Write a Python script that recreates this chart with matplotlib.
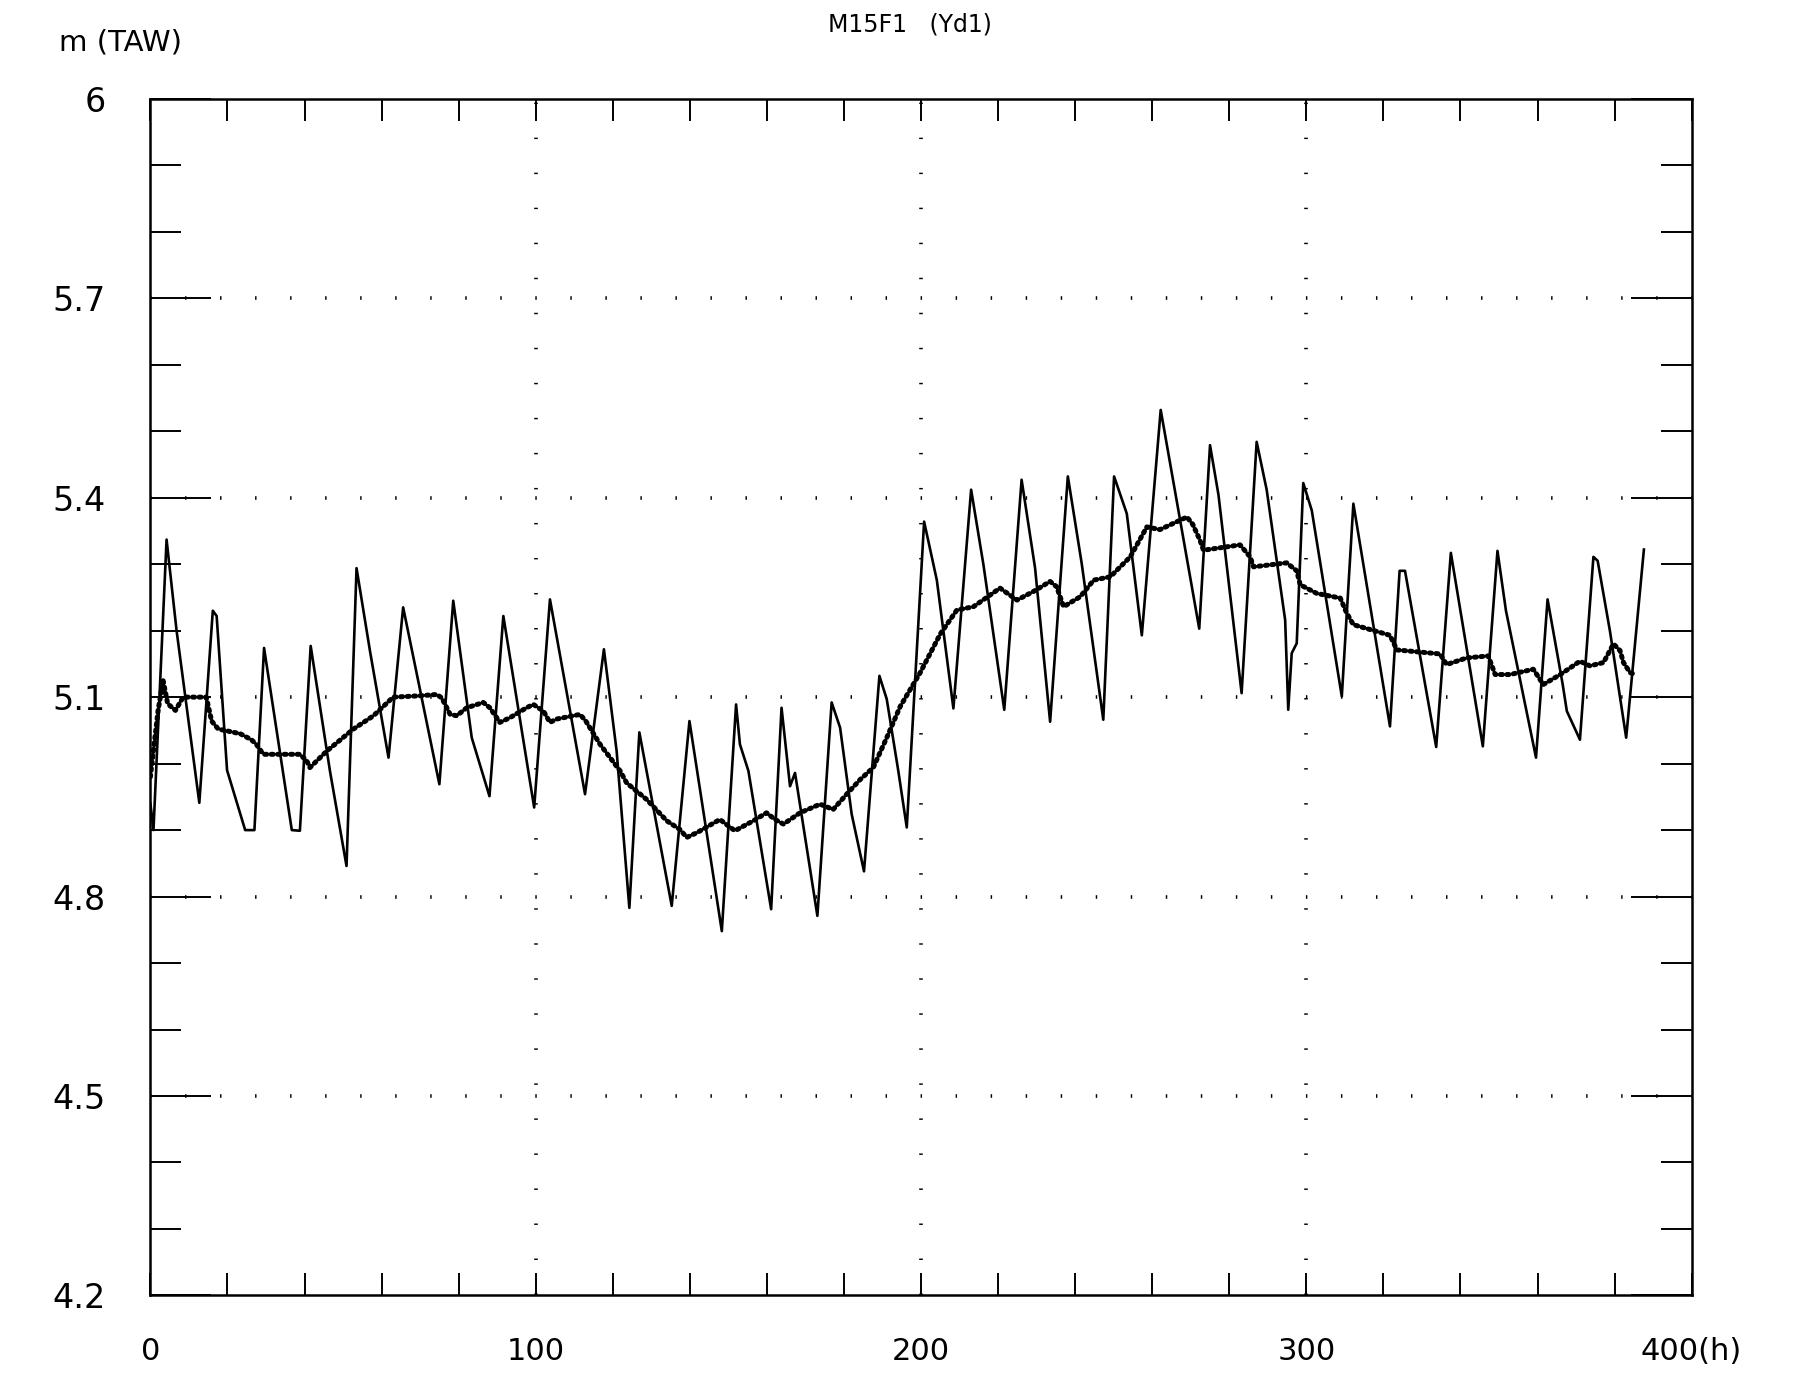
import matplotlib
matplotlib.use("Agg")
import matplotlib.pyplot as plt
from matplotlib.ticker import MultipleLocator, FixedLocator

# hourly water level (solid tidal curve): hour, level in m TAW
tide_h = [0.0, 0.8, 4.2, 6.8, 12.7, 16.2, 17.2, 19.9, 24.6, 27.0,
          29.5, 36.7, 38.8, 41.6, 46.6, 50.9, 53.5, 57.0, 61.8,
          65.6, 75.0, 78.6, 83.4, 88.0, 91.6, 99.6, 103.7, 112.8,
          117.7, 121.0, 124.3, 126.9, 135.3, 139.9, 148.3,
          152.0, 153.0, 155.2, 161.1, 163.8, 166.0, 167.3, 173.1,
          176.8, 179.0, 182.0, 183.3, 185.2, 189.2, 191.1, 194.1, 196.3,
          200.8, 204.1, 208.4, 213.0, 216.2, 221.6, 226.1, 229.6, 233.5,
          238.1, 241.7, 247.3, 250.1, 253.4, 257.3, 262.2, 272.2,
          275.0, 277.2, 283.2, 287.1, 289.7, 294.5, 295.3, 296.2, 297.5,
          299.2, 301.4, 309.2, 312.2, 321.7, 324.2, 325.6, 333.7,
          337.5, 345.8, 349.6, 351.8, 359.6, 362.6, 366.5, 367.6, 371.0,
          374.5, 375.6, 378.8, 383.0, 387.6]
tide_m = [4.94, 4.90, 5.337, 5.20, 4.941, 5.230, 5.222, 4.99, 4.90, 4.90,
          5.174, 4.90, 4.899, 5.177, 4.989, 4.846, 5.294, 5.169, 5.009,
          5.235, 4.969, 5.245, 5.039, 4.951, 5.222, 4.934, 5.247, 4.954,
          5.172, 5.019, 4.783, 5.047, 4.786, 5.064, 4.748,
          5.089, 5.029, 4.989, 4.781, 5.084, 4.966, 4.986, 4.771,
          5.092, 5.054, 4.924, 4.889, 4.838, 5.132, 5.097, 4.989, 4.904,
          5.364, 5.276, 5.083, 5.412, 5.299, 5.081, 5.427, 5.294, 5.063,
          5.432, 5.301, 5.066, 5.432, 5.376, 5.193, 5.532, 5.203,
          5.479, 5.404, 5.106, 5.484, 5.412, 5.216, 5.081, 5.166, 5.181,
          5.422, 5.381, 5.101, 5.391, 5.056, 5.290, 5.290, 5.025,
          5.317, 5.026, 5.320, 5.230, 5.009, 5.247, 5.12, 5.079, 5.036,
          5.311, 5.305, 5.199, 5.039, 5.322]

# filtered mean level (thick dotted curve)
mean_h = [0.0, 1.0, 2.0, 3.3, 4.5, 6.5, 8.5, 14.5, 15.9, 17.6, 23.3, 26.2,
          27.5, 29.3, 38.8, 40.6, 41.4, 45.8, 52.7, 57.9, 63.0, 69.9, 74.3,
          75.6, 77.8, 79.5, 82.1, 86.4, 88.1, 90.7, 93.3, 97.6, 99.4, 102.0,
          103.7, 105.4, 111.5, 113.0, 116.7, 121.9, 123.6, 128.8, 134.0,
          137.4, 139.2, 141.8, 147.8, 149.6, 151.7, 156.5, 159.9, 162.1,
          164.3, 168.6, 173.8, 177.2, 180.7, 184.2, 187.6, 191.1, 194.6,
          199.8, 205.0, 209.3, 213.6, 220.5, 224.9, 229.2, 233.5, 235.2,
          237.0, 241.3, 244.8, 249.1, 254.3, 258.6, 262.0, 267.2, 269.0,
          270.5, 272.4, 273.3, 282.8, 285.4, 286.3, 294.9, 297.5, 298.4,
          302.7, 308.8, 310.5, 312.2, 321.7, 323.5, 334.7, 336.4, 341.6,
          347.2, 349.0, 352.9, 358.9, 361.5, 365.9, 371.0, 373.6, 377.1,
          379.7, 381.4, 382.3, 384.0, 385.3]
mean_m = [4.98, 5.03, 5.08, 5.125, 5.09, 5.08, 5.10, 5.10, 5.064, 5.052, 5.045, 5.036,
          5.029, 5.014, 5.014, 5.004, 4.994, 5.019, 5.052, 5.072, 5.100, 5.102, 5.104,
          5.099, 5.074, 5.072, 5.084, 5.092, 5.084, 5.062, 5.069, 5.084, 5.089, 5.079,
          5.062, 5.067, 5.074, 5.064, 5.029, 4.989, 4.971, 4.946, 4.914,
          4.901, 4.889, 4.896, 4.916, 4.908, 4.899, 4.914, 4.926, 4.916,
          4.909, 4.926, 4.939, 4.931, 4.954, 4.976, 4.994, 5.039, 5.086,
          5.137, 5.195, 5.231, 5.236, 5.264, 5.246, 5.259, 5.274, 5.266,
          5.236, 5.251, 5.276, 5.281, 5.311, 5.356, 5.352, 5.366, 5.371,
          5.36, 5.336, 5.321, 5.329, 5.311, 5.296, 5.302, 5.29, 5.269,
          5.256, 5.249, 5.226, 5.209, 5.193, 5.171, 5.165, 5.149, 5.159,
          5.162, 5.134, 5.134, 5.142, 5.119, 5.134, 5.154, 5.147, 5.152,
          5.18, 5.17, 5.152, 5.137, 5.134]

x_labels = ["0", "100", "200", "300", "400(h)"]
y_major = [4.2, 4.5, 4.8, 5.1, 5.4, 5.7, 6.0]
y_labels = ["4.2", "4.5", "4.8", "5.1", "5.4", "5.7", "6"]

fig = plt.figure(figsize=(18.01, 13.78), dpi=100)
ax = fig.add_axes([0.0835, 0.0599, 0.8558, 0.8684])

# dotted grid
grid_style = dict(color="black", lw=2.6, linestyle=(0, (0.4, 9.3)), zorder=1)
for yv in [4.5, 4.8, 5.1, 5.4, 5.7]:
    ax.axhline(yv, **grid_style)
for xv in [100, 200, 300]:
    ax.axvline(xv, **grid_style)

ax.plot(tide_h, tide_m, color="black", lw=1.9, zorder=3)
ax.plot(mean_h, mean_m, color="black", lw=3.6, linestyle=(0, (0.4, 0.9)),
        dash_capstyle="round", zorder=4)

ax.set_xlim(0, 400)
ax.set_ylim(4.2, 6.0)

ax.xaxis.set_major_locator(FixedLocator([0, 100, 200, 300, 400]))
ax.xaxis.set_minor_locator(MultipleLocator(20))
ax.set_xticklabels(x_labels)
ax.yaxis.set_major_locator(FixedLocator(y_major))
ax.yaxis.set_minor_locator(MultipleLocator(0.1))
ax.set_yticklabels(y_labels)

ax.tick_params(axis="x", which="both", direction="in", top=True, bottom=True,
               length=16, width=1.4, labelsize=22, pad=30)
ax.tick_params(axis="y", which="major", direction="in", left=True, right=True,
               length=44, width=1.4, labelsize=24, pad=32)
ax.tick_params(axis="y", which="minor", direction="in", left=True, right=True,
               length=22, width=1.4)
for s in ax.spines.values():
    s.set_linewidth(1.8)

fig.text(0.505, 0.982, "M15F1   (Yd1)", ha="center", va="center", fontsize=17)
fig.text(0.067, 0.969, "m (TAW)", ha="center", va="center", fontsize=21)

fig.savefig("out.png", dpi=100)
